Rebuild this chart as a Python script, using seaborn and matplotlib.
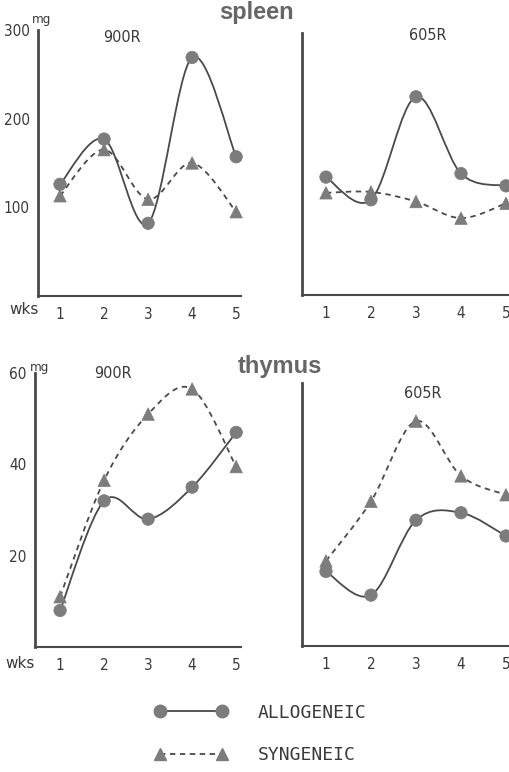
import numpy as np
import pandas as pd
import matplotlib.pyplot as plt
from matplotlib.path import Path
from matplotlib.patches import PathPatch
from matplotlib.lines import Line2D
import seaborn as sns

# ── DATA ───────────────────────────────────────────────────────────────────
weeks = [1, 2, 3, 4, 5]

spleen_900_allo = [126, 177, 82, 269, 157]
spleen_900_syn = [113, 165, 109, 150, 95]
spleen_605_allo = [135, 109, 227, 139, 125]
spleen_605_syn = [117, 118, 107, 88, 105]

thymus_900_allo = [8, 32, 28, 35, 47]
thymus_900_syn = [11, 36.5, 51, 56.5, 39.5]
thymus_605_allo = [17, 11.6, 28.7, 30.4, 25.1]
thymus_605_syn = [19.4, 33, 51.3, 38.8, 34.5]

# ── STYLE ──────────────────────────────────────────────────────────────────
sns.set_style('white')
plt.rcParams['font.family'] = ['DejaVu Sans']
plt.rcParams['font.stretch'] = 'condensed'

W, H = 509, 772
INK = '#4a4a4a'
MARK = '#7c7c7c'
TXT = '#3a3a3a'


def fx(px):
    return px / W


def fy(py):
    return 1 - py / H


def smooth(ax, xs, ys, ls):
    # catmull-rom through the data points, drawn as bezier segments
    pts = np.column_stack([xs, ys]).astype(float)
    ext = np.vstack([pts[0], pts, pts[-1]])
    verts = [tuple(pts[0])]
    codes = [Path.MOVETO]
    for i in range(1, len(ext) - 2):
        p0, p1, p2, p3 = ext[i - 1], ext[i], ext[i + 1], ext[i + 2]
        c1 = p1 + (p2 - p0) / 6
        c2 = p2 - (p3 - p1) / 6
        verts += [tuple(c1), tuple(c2), tuple(p2)]
        codes += [Path.CURVE4] * 3
    patch = PathPatch(Path(verts, codes), fill=False, edgecolor=INK,
                      linewidth=1.3, linestyle=ls, clip_on=False, zorder=2)
    ax.add_patch(patch)


def panel(rect, allo, syn, ymax, yticks, xlim, show_labels):
    ax = fig.add_axes(rect)
    df = pd.DataFrame({
        'week': weeks * 2,
        'mg': allo + syn,
        'group': ['ALLOGENEIC'] * 5 + ['SYNGENEIC'] * 5,
    })
    smooth(ax, weeks, allo, '-')
    smooth(ax, weeks, syn, (0, (3, 2.5)))
    sns.scatterplot(data=df, x='week', y='mg', style='group',
                    markers={'ALLOGENEIC': 'o', 'SYNGENEIC': '^'},
                    s=80, color=MARK, edgecolor=MARK, linewidth=0.5,
                    legend=False, ax=ax, zorder=3, clip_on=False)
    ax.set_xlim(*xlim)
    ax.set_ylim(0, ymax)
    ax.set_xticks(weeks)
    ax.set_yticks(yticks)
    ax.set_yticklabels([str(t) for t in yticks] if show_labels else [])
    ax.set_xlabel('')
    ax.set_ylabel('')
    ax.set_facecolor('none')
    for s in ['top', 'right']:
        ax.spines[s].set_visible(False)
    ax.spines['left'].set_linewidth(2.0)
    ax.spines['bottom'].set_linewidth(1.5)
    ax.spines['left'].set_color(INK)
    ax.spines['bottom'].set_color(INK)
    ax.tick_params(axis='x', direction='inout', length=6, width=1,
                   color=INK, labelsize=11, labelcolor=TXT, pad=5)
    ax.tick_params(axis='y', direction='out', length=4, width=1.2,
                   color=INK, labelsize=11, labelcolor=TXT, pad=2)
    return ax


fig = plt.figure(figsize=(W / 100, H / 100), dpi=100)
fig.patch.set_facecolor('white')

panel([fx(38), fy(296), 203 / W, 266 / H], spleen_900_allo, spleen_900_syn,
      300, [100, 200, 300], (0.5, 5.11), True)
panel([fx(302), fy(295), 207 / W, 262 / H], spleen_605_allo, spleen_605_syn,
      300, [100, 200, 300], (0.467, 5.067), False)
panel([fx(35), fy(647), 206 / W, 274 / H], thymus_900_allo, thymus_900_syn,
      60, [20, 40, 60], (0.43, 5.11), True)
panel([fx(302), fy(646), 207 / W, 263 / H], thymus_605_allo, thymus_605_syn,
      60, [20, 40, 60], (0.467, 5.067), False)

# ── TEXT ───────────────────────────────────────────────────────────────────
head = dict(family=['Liberation Sans', 'DejaVu Sans'], weight='bold',
            stretch='normal', color='#666666', fontsize=17,
            ha='center', va='center')
fig.text(fx(256), fy(13), 'spleen', **head)
fig.text(fx(280), fy(366), 'thymus', **head)

lab = dict(color=TXT, fontsize=11.5, ha='center', va='center')
fig.text(fx(122), fy(37), '900R', **lab)
fig.text(fx(428), fy(35), '605R', **lab)
fig.text(fx(113), fy(374), '900R', **lab)
fig.text(fx(423), fy(393), '605R', **lab)

small = dict(color=TXT, fontsize=9.5, ha='center', va='center')
fig.text(fx(42), fy(20), 'mg', **small)
fig.text(fx(40), fy(367), 'mg', **small)
wks = dict(fontsize=11, color=TXT, ha='center', va='center', stretch='normal')
fig.text(fx(24), fy(310), 'wks', **wks)
fig.text(fx(20), fy(663), 'wks', **wks)

# ── LEGEND ─────────────────────────────────────────────────────────────────
handles = [
    Line2D([], [], color=INK, lw=1.3, marker='o', markersize=9,
           markerfacecolor=MARK, markeredgecolor=MARK),
    Line2D([], [], color=INK, lw=1.3, ls=(0, (3, 2.5)), marker='^',
           markersize=9, markerfacecolor=MARK, markeredgecolor=MARK),
]
fig.legend(handles, ['ALLOGENEIC', 'SYNGENEIC'], loc='center left',
           bbox_to_anchor=(fx(155), fy(734)), frameon=False,
           prop=dict(family=['DejaVu Sans Mono'], size=13), labelcolor=TXT,
           handlelength=4.0, handletextpad=1.7, labelspacing=1.35,
           numpoints=2, borderpad=0, borderaxespad=0)

plt.savefig('out.png', dpi=100)
plt.close()
